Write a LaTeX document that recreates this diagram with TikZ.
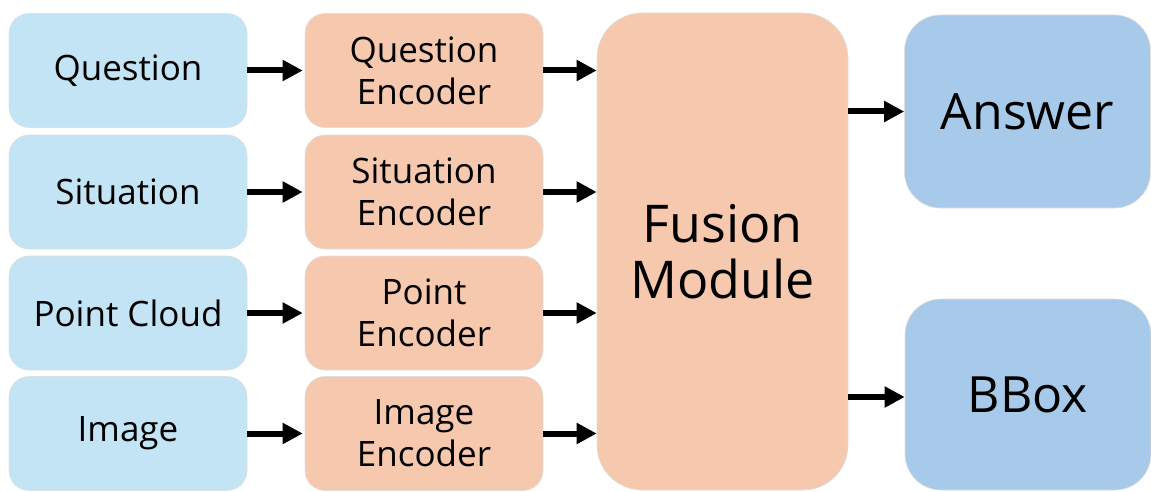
\documentclass[tikz,border=0pt]{standalone}
\usepackage{fontspec}
\setmainfont{Open Sans}
\usetikzlibrary{arrows.meta,positioning}
\definecolor{inblue}{HTML}{C2E4F4}
\definecolor{encorange}{HTML}{F6C8AE}
\definecolor{outblue}{HTML}{A7C9EA}
\begin{document}
\begin{tikzpicture}[x=1pt,y=1pt,
	box/.style={rounded corners=20pt,draw=gray!25,line width=0.6pt,align=center,
		font=\fontsize{35}{42}\selectfont,inner sep=0pt},
	inbox/.style={box,fill=inblue,minimum width=238pt,minimum height=114pt},
	encbox/.style={box,fill=encorange,minimum width=238pt,minimum height=114pt},
	outbox/.style={box,fill=outblue,rounded corners=36pt,minimum width=246pt,
		font=\fontsize{50}{60}\selectfont},
	arr/.style={line width=6pt,-{Triangle[length=20pt,width=20pt]}}]
	\useasboundingbox (0,0) rectangle (1151,491);
	\foreach \n/\y/\t/\e in {q/420.5/Question/Question,s/299/Situation/Situation,
		p/178/Point Cloud/Point,i/57.5/Image/Image}{
		\node[inbox] (\n) at (128,\y) {\t};
		\node[encbox] (\n_e) at (424,\y) {\e\\Encoder};
	}
	\node[box,fill=encorange,rounded corners=45pt,minimum width=251pt,minimum height=477pt,
		font=\fontsize{52}{56}\selectfont] (fus) at (722.5,239.5) {Fusion\\Module};
	\node[outbox,minimum height=193pt] (ans) at (1027.5,379.5) {Answer};
	\node[outbox,minimum height=191pt] (bb) at (1028,96.5) {BBox};
	\foreach \n in {q,s,p,i}{
		\draw[arr] (\n.east) -- ([xshift=-2pt]\n_e.west);
		\draw[arr] (\n_e.east) -- (\n_e.east -| fus.west);
	}
	\draw[arr] (fus.east |- ans.west) -- (ans.west);
	\draw[arr] ([yshift=-2.5pt]fus.east |- bb.west) -- ([yshift=-2.5pt]bb.west);
\end{tikzpicture}
\end{document}
